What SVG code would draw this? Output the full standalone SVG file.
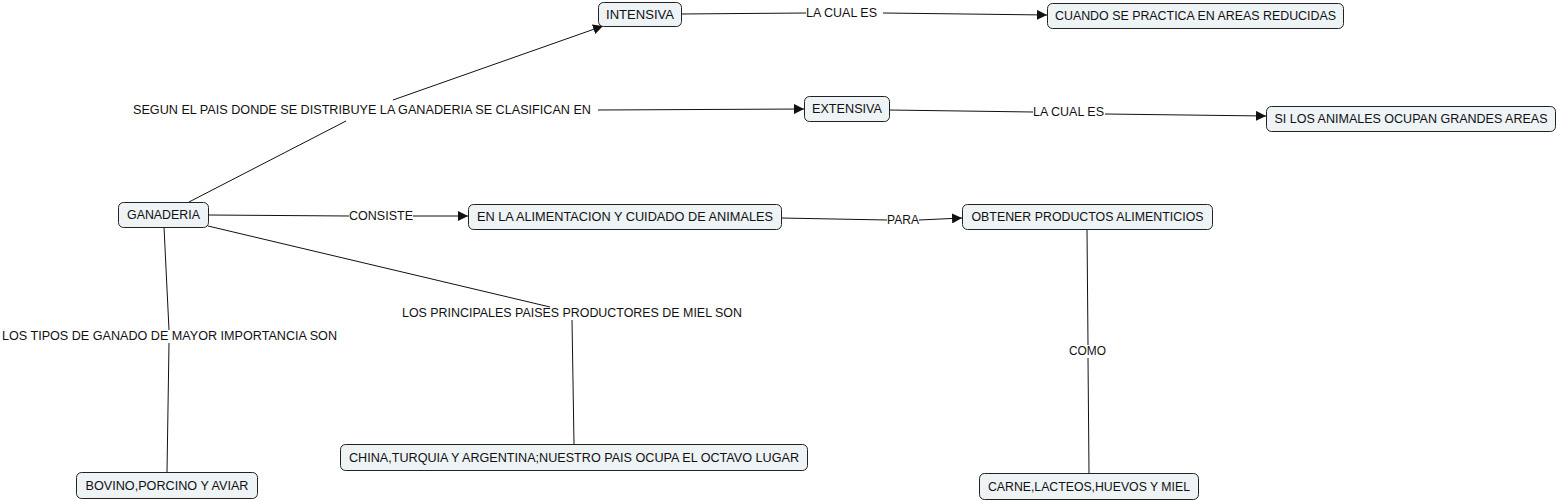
<svg xmlns="http://www.w3.org/2000/svg" width="1558" height="502" viewBox="0 0 1558 502">
<style>
.n rect{fill:#eef3f6;stroke:#222;stroke-width:1}
text{font-family:"Liberation Sans",Arial,sans-serif;font-size:12.5px;fill:#111;dominant-baseline:central}
.n text{text-anchor:middle}
.l{text-anchor:start}
#c line{stroke:#111;stroke-width:1}
</style>
<defs>
<marker id="ah" viewBox="0 0 10 10" refX="10" refY="5" markerWidth="10" markerHeight="10" markerUnits="userSpaceOnUse" orient="auto">
<path d="M0,0 L10,5 L0,10 Z" fill="#111"/>
</marker>
</defs>
<rect width="1558" height="502" fill="#fff"/>
<g id="c">
<line x1="189" y1="202" x2="346" y2="121"/>
<line x1="393" y1="100" x2="603" y2="26" marker-end="url(#ah)"/>
<line x1="598" y1="110" x2="804" y2="109" marker-end="url(#ah)"/>
<line x1="681" y1="14" x2="806" y2="13"/>
<line x1="883" y1="13" x2="1047" y2="15" marker-end="url(#ah)"/>
<line x1="889" y1="110" x2="1033" y2="112"/>
<line x1="1105" y1="114" x2="1266" y2="116" marker-end="url(#ah)"/>
<line x1="208" y1="215" x2="349" y2="216"/>
<line x1="413" y1="216" x2="468" y2="216" marker-end="url(#ah)"/>
<line x1="781" y1="218" x2="887" y2="220"/>
<line x1="919" y1="220" x2="962" y2="218" marker-end="url(#ah)"/>
<line x1="164" y1="227" x2="169" y2="330"/>
<line x1="169" y1="343" x2="167" y2="472"/>
<line x1="208" y1="226" x2="550" y2="307"/>
<line x1="572" y1="320" x2="574" y2="444"/>
<line x1="1087" y1="229" x2="1088" y2="345"/>
<line x1="1088" y1="358" x2="1089" y2="473"/>
</g>
<g id="labels">
<text class="l" x="133" y="110" textLength="458" lengthAdjust="spacingAndGlyphs">SEGUN EL PAIS DONDE SE DISTRIBUYE LA GANADERIA SE CLASIFICAN EN</text>
<text class="l" x="806" y="13" textLength="71" lengthAdjust="spacingAndGlyphs">LA CUAL ES</text>
<text class="l" x="1033" y="112" textLength="71" lengthAdjust="spacingAndGlyphs">LA CUAL ES</text>
<text class="l" x="349" y="216" textLength="64" lengthAdjust="spacingAndGlyphs">CONSISTE</text>
<text class="l" x="887" y="220" textLength="32" lengthAdjust="spacingAndGlyphs">PARA</text>
<text class="l" x="2" y="336" textLength="335" lengthAdjust="spacingAndGlyphs">LOS TIPOS DE GANADO DE MAYOR IMPORTANCIA SON</text>
<text class="l" x="402" y="313" textLength="340" lengthAdjust="spacingAndGlyphs">LOS PRINCIPALES PAISES PRODUCTORES DE MIEL SON</text>
<text class="l" x="1069" y="351" textLength="37" lengthAdjust="spacingAndGlyphs">COMO</text>
</g>
<g id="n-intensiva" class="n"><rect x="598.5" y="2.5" width="83" height="24" rx="5"/><text x="640" y="14.5" textLength="68" lengthAdjust="spacingAndGlyphs">INTENSIVA</text></g>
<g id="n-cuando" class="n"><rect x="1047.5" y="3.5" width="296" height="25" rx="5"/><text x="1195.5" y="16" textLength="281" lengthAdjust="spacingAndGlyphs">CUANDO SE PRACTICA EN AREAS REDUCIDAS</text></g>
<g id="n-extensiva" class="n"><rect x="804.5" y="96.5" width="85" height="25" rx="5"/><text x="847" y="109" textLength="70" lengthAdjust="spacingAndGlyphs">EXTENSIVA</text></g>
<g id="n-si" class="n"><rect x="1266.5" y="106.5" width="289" height="25" rx="5"/><text x="1411" y="119" textLength="273" lengthAdjust="spacingAndGlyphs">SI LOS ANIMALES OCUPAN GRANDES AREAS</text></g>
<g id="n-ganaderia" class="n"><rect x="118.5" y="202.5" width="90" height="25" rx="5"/><text x="163.5" y="215" textLength="73" lengthAdjust="spacingAndGlyphs">GANADERIA</text></g>
<g id="n-alimentacion" class="n"><rect x="468.5" y="204.5" width="313" height="25" rx="5"/><text x="625" y="217" textLength="296" lengthAdjust="spacingAndGlyphs">EN LA ALIMENTACION Y CUIDADO DE ANIMALES</text></g>
<g id="n-obtener" class="n"><rect x="962.5" y="204.5" width="250" height="25" rx="5"/><text x="1087.5" y="217" textLength="232" lengthAdjust="spacingAndGlyphs">OBTENER PRODUCTOS ALIMENTICIOS</text></g>
<g id="n-bovino" class="n"><rect x="76.5" y="472.5" width="181" height="26" rx="5"/><text x="167" y="485.5" textLength="163" lengthAdjust="spacingAndGlyphs">BOVINO,PORCINO Y AVIAR</text></g>
<g id="n-china" class="n"><rect x="340.5" y="444.5" width="467" height="26" rx="5"/><text x="574" y="457.5" textLength="450" lengthAdjust="spacingAndGlyphs">CHINA,TURQUIA Y ARGENTINA;NUESTRO PAIS OCUPA EL OCTAVO LUGAR</text></g>
<g id="n-carne" class="n"><rect x="979.5" y="473.5" width="219" height="26" rx="5"/><text x="1089" y="486.5" textLength="202" lengthAdjust="spacingAndGlyphs">CARNE,LACTEOS,HUEVOS Y MIEL</text></g>
</svg>
